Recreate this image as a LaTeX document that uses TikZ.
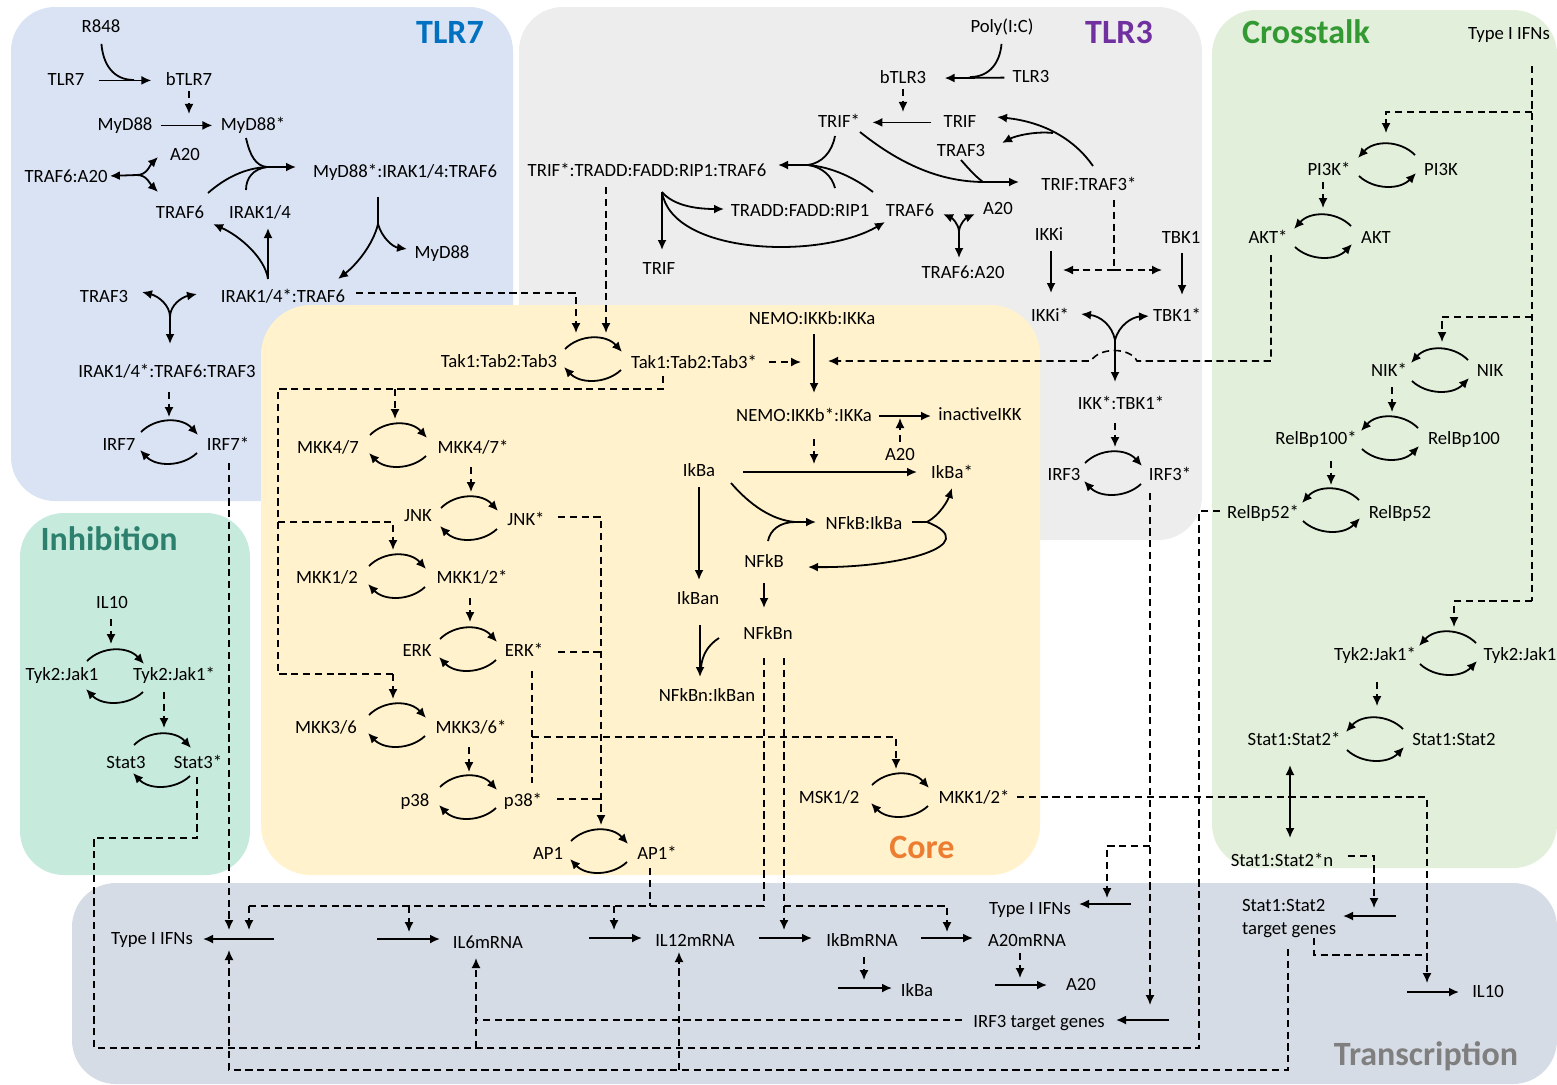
\documentclass[tikz,border=0pt]{standalone}
\usepackage{fontspec}
\setmainfont{Carlito}
\usetikzlibrary{arrows.meta}
\definecolor{tlrsevenbg}{HTML}{DAE3F3}
\definecolor{tlrthreebg}{HTML}{EDEDED}
\definecolor{crossbg}{HTML}{E2EFDA}
\definecolor{inhibbg}{HTML}{C6EBDD}
\definecolor{corebg}{HTML}{FFF2CC}
\definecolor{transbg}{HTML}{D6DCE5}
\definecolor{tlrsevenc}{HTML}{0070C0}
\definecolor{tlrthreec}{HTML}{7030A0}
\definecolor{crossc}{HTML}{339933}
\definecolor{inhibc}{HTML}{2E806E}
\definecolor{corec}{HTML}{ED7D31}
\definecolor{transc}{HTML}{7F7F7F}
\tikzset{
  txt/.style={font=\fontsize{9.35pt}{11.2pt}\selectfont, inner sep=1pt, yshift=-1.2pt},
  lbl/.style={txt, text height=6.4pt, text depth=1.7pt},
  ttl/.style={font=\fontsize{17pt}{20pt}\selectfont\bfseries, anchor=base, inner sep=0pt},
  ln/.style={line width=0.9pt},
  rx/.style={ln, -{Latex[length=5pt,width=4.5pt]}},
  dl/.style={line width=0.8pt, dash pattern=on 3.6pt off 2.3pt},
  ctl/.style={dl, -{Latex[length=5pt,width=4.5pt]}},
  panel/.style={rounded corners=22pt}
}
\begin{document}
\begin{tikzpicture}[x=0.5pt,y=-0.5pt]
\useasboundingbox (0,0) rectangle (1557,1084);
% Panels
\fill[panel, fill=tlrsevenbg] (11,7) rectangle (513,501);
\fill[panel, fill=tlrthreebg] (519,7) rectangle (1202,540);
\fill[panel, fill=crossbg] (1212,10) rectangle (1557,868);
\fill[panel, fill=inhibbg] (20,513) rectangle (250,875);
\fill[panel, fill=transbg] (72,883) rectangle (1557,1084);
\fill[panel, rounded corners=25pt, fill=corebg] (261,305) rectangle (1040,875);
\node[ttl, text=tlrsevenc] (ttlseven) at (450,43) {TLR7};
\node[ttl, text=tlrthreec] (ttlthree) at (1119,43) {TLR3};
\node[ttl, text=crossc] (ttlcross) at (1306,43) {Crosstalk};
\node[ttl, text=inhibc] (ttlinhib) at (109,550) {Inhibition};
\node[ttl, text=corec] (ttlcore) at (922,858) {Core};
\node[ttl, text=transc] (ttltrans) at (1426,1065) {Transcription};

% TLR7 species
\node[lbl] (r848) at (101,25) {R848};
\node[lbl] (tlr7) at (66,78) {TLR7};
\node[lbl] (btlr7) at (189,78) {bTLR7};
\node[lbl] (myd88) at (125,123) {MyD88};
\node[lbl] (myd88a) at (253,123) {MyD88*};
\node[lbl] (a20a) at (185,153) {A20};
\node[lbl] (traf6a20a) at (66,175) {TRAF6:A20};
\node[lbl] (mydcplx) at (405,170) {MyD88*:IRAK1/4:TRAF6};
\node[lbl] (traf6a) at (180,211) {TRAF6};
\node[lbl] (irak) at (260,211) {IRAK1/4};
\node[lbl] (myd88b) at (442,251) {MyD88};
\node[lbl] (traf3a) at (104,295) {TRAF3};
\node[lbl] (iraktraf6) at (283,295) {IRAK1/4*:TRAF6};
\node[lbl] (iraktraf3) at (167,370) {IRAK1/4*:TRAF6:TRAF3};
\node[lbl] (irf7) at (119,443) {IRF7};
\node[lbl] (irf7a) at (228,443) {IRF7*};

% TLR3 species
\node[lbl] (polyic) at (1002,25) {Poly(I:C)};
\node[lbl] (btlr3) at (903,76) {bTLR3};
\node[lbl] (tlr3) at (1031,75) {TLR3};
\node[lbl] (trifa) at (839,120) {TRIF*};
\node[lbl] (trif) at (960,120) {TRIF};
\node[lbl] (traf3b) at (961,149) {TRAF3};
\node[lbl] (triftraf3) at (1089,183) {TRIF:TRAF3*};
\node[lbl] (trifcplx) at (647,169) {TRIF*:TRADD:FADD:RIP1:TRAF6};
\node[lbl] (tfr) at (800,209) {TRADD:FADD:RIP1};
\node[lbl] (traf6b) at (910,209) {TRAF6};
\node[lbl] (a20b) at (998,207) {A20};
\node[lbl] (trifb) at (659,267) {TRIF};
\node[lbl] (traf6a20b) at (963,271) {TRAF6:A20};
\node[lbl] (ikki) at (1049,233) {IKKi};
\node[lbl] (tbk1) at (1181,236) {TBK1};
\node[lbl] (ikkia) at (1050,314) {IKKi*};
\node[lbl] (tbk1a) at (1177,314) {TBK1*};
\node[lbl] (ikktbk) at (1121,402) {IKK*:TBK1*};
\node[lbl] (irf3) at (1064,473) {IRF3};
\node[lbl] (irf3a) at (1170,473) {IRF3*};

% Crosstalk species
\node[lbl] (ifntop) at (1509,32) {Type I IFNs};
\node[lbl] (pi3ka) at (1329,168) {PI3K*};
\node[lbl] (pi3k) at (1441,168) {PI3K};
\node[lbl] (akta) at (1268,236) {AKT*};
\node[lbl] (akt) at (1376,236) {AKT};
\node[lbl] (nika) at (1389,369) {NIK*};
\node[lbl] (nik) at (1490,369) {NIK};
\node[lbl] (relbhunda) at (1316,437) {RelBp100*};
\node[lbl] (relbhund) at (1464,437) {RelBp100};
\node[lbl] (relbfiftya) at (1263,511) {RelBp52*};
\node[lbl] (relbfifty) at (1400,511) {RelBp52};
\node[lbl] (tykjaka) at (1375,653) {Tyk2:Jak1*};
\node[lbl] (tykjak) at (1520,653) {Tyk2:Jak1};
\node[lbl] (statsa) at (1294,738) {Stat1:Stat2*};
\node[lbl] (stats) at (1454,738) {Stat1:Stat2};
\node[lbl] (statsn) at (1282,859) {Stat1:Stat2*n};

% Inhibition species
\node[lbl] (iltena) at (112,601) {IL10};
\node[lbl] (tykjakb) at (62,673) {Tyk2:Jak1};
\node[lbl] (tykjakba) at (174,673) {Tyk2:Jak1*};
\node[lbl] (stat3) at (126,761) {Stat3};
\node[lbl] (stat3a) at (198,761) {Stat3*};

% Core species
\node[lbl] (tak) at (499,360) {Tak1:Tab2:Tab3};
\node[lbl] (taka) at (694,361) {Tak1:Tab2:Tab3*};
\node[lbl] (nemo) at (812,317) {NEMO:IKKb:IKKa};
\node[lbl] (nemoa) at (804,414) {NEMO:IKKb*:IKKa};
\node[lbl] (inact) at (980,413) {inactiveIKK};
\node[lbl] (a20c) at (900,453) {A20};
\node[lbl] (ikba) at (699,469) {IkBa};
\node[lbl] (ikbaa) at (952,471) {IkBa*};
\node[lbl] (nfkbikba) at (864,522) {NFkB:IkBa};
\node[lbl] (nfkb) at (764,560) {NFkB};
\node[lbl] (ikban) at (698,597) {IkBan};
\node[lbl] (nfkbn) at (768,632) {NFkBn};
\node[lbl] (nfkbnikban) at (707,694) {NFkBn:IkBan};
\node[lbl] (mkkfs) at (328,446) {MKK4/7};
\node[lbl] (mkkfsa) at (473,446) {MKK4/7*};
\node[lbl] (jnk) at (418,514) {JNK};
\node[lbl] (jnka) at (526,518) {JNK*};
\node[lbl] (mkkot) at (327,576) {MKK1/2};
\node[lbl] (mkkota) at (472,576) {MKK1/2*};
\node[lbl] (erk) at (417,649) {ERK};
\node[lbl] (erka) at (524,649) {ERK*};
\node[lbl] (mkkts) at (326,726) {MKK3/6};
\node[lbl] (mkktsa) at (471,726) {MKK3/6*};
\node[lbl] (pte) at (415,799) {p38};
\node[lbl] (ptea) at (523,799) {p38*};
\node[lbl] (apone) at (548,852) {AP1};
\node[lbl] (aponea) at (657,852) {AP1*};
\node[lbl] (msk) at (829,796) {MSK1/2};
\node[lbl] (mska) at (974,796) {MKK1/2*};

% Transcription species
\node[lbl] (ifna) at (152,937) {Type I IFNs};
\node[lbl] (ilsix) at (488,941) {IL6mRNA};
\node[lbl] (iltwelve) at (695,939) {IL12mRNA};
\node[lbl] (ikbm) at (862,939) {IkBmRNA};
\node[lbl] (atwm) at (1027,939) {A20mRNA};
\node[lbl] (ifnb) at (1030,907) {Type I IFNs};
\node[lbl] (ikbb) at (917,989) {IkBa};
\node[lbl] (a20d) at (1081,983) {A20};
\node[lbl] (irfgenes) at (1039,1020) {IRF3 target genes};
\node[txt, align=left] (statgenes) at (1289,916) {Stat1:Stat2\\target genes};
\node[lbl] (iltenb) at (1488,990) {IL10};

% Phosphorylation cycles (1 = forward on top, -1 = mirrored; \e = half height)
\foreach \cx/\cy/\s/\e in {169/442/1/10, 593/359/1/10, 398/445/1/10, 469/518/1/10,
    397/576/1/10, 468/649/1/10, 397/725/1/10, 468/797/1/10, 599/851/1/10, 900/795/1/10,
    1113/473/1/10, 115/676/1/15, 162/760/1/15, 1387/165/-1/10, 1323/236/-1/10,
    1440/370/-1/10, 1390/438/-1/10, 1331/510/-1/10, 1448/653/-1/10, 1375/739/-1/10} {
  \draw[rx] (\cx-28*\s,\cy-\e) .. controls (\cx-13*\s,\cy-\e-15) and (\cx+13*\s,\cy-\e-15) .. (\cx+29*\s,\cy-\e+3);
  \draw[rx] (\cx+28*\s,\cy+\e+1) .. controls (\cx+13*\s,\cy+\e+15) and (\cx-13*\s,\cy+\e+15) .. (\cx-29*\s,\cy+\e-2);
}

% TLR7 reactions
\draw[rx, shorten <=6pt, shorten >=6pt] (tlr7) -- (btlr7);
\draw[ln, shorten <=3pt] (r848.south) .. controls (103,64) and (113,80) .. (134,80);
\draw[ctl] (btlr7.south) -- ++(0,23);
\draw[rx, shorten <=3pt, shorten >=3pt] (myd88) -- (myd88a);
\coordinate (fa) at (137,175);
\draw[rx] (fa) -- (traf6a20a);
\draw[rx] (fa) .. controls (147,175) and (150,165) .. (158,157);
\draw[rx] (fa) .. controls (147,175) and (150,184) .. (158,192);
\coordinate (jm) at (267,167);
\draw[rx] (jm) -- (296,167);
\draw[ln] (246,138) .. controls (250,156) and (256,166) .. (jm);
\draw[ln] (208,193) .. controls (225,178) and (245,168) .. (jm);
\draw[ln] (246,190) .. controls (246,178) and (253,169) .. (jm);
\draw[ln] (378,197) -- (378,224);
\draw[rx] (378,224) .. controls (373,245) and (356,265) .. (338,279);
\draw[rx] (378,224) .. controls (382,238) and (393,247) .. (407,249);
\coordinate (js) at (268,279);
\draw[rx] (js) -- (268,228);
\draw[rx] (js) .. controls (265,258) and (240,236) .. (213,224);
\coordinate (jf) at (170,317);
\draw[rx] (jf) -- (170,344);
\draw[rx] (jf) .. controls (170,305) and (158,296) .. (142,292);
\draw[rx] (jf) .. controls (170,305) and (182,297) .. (197,294);
\draw[ctl] (169,392) -- (169,417);
\draw[ctl] (229,463) -- (229,930);

% TLR3 reactions
\draw[rx, shorten <=3pt, shorten >=8pt] (tlr3) -- (btlr3);
\draw[ln, shorten <=3pt] (polyic.south) .. controls (1000,62) and (990,77) .. (970,77);
\draw[ctl] (btlr3.south) -- ++(0,23);
\draw[rx, shorten <=5pt, shorten >=5pt] (trif) -- (trifa);
\draw[rx] (860,132) .. controls (905,168) and (945,182) .. (985,182) -- (1019,182);
\draw[ln] (961,160) .. controls (968,168) and (975,176) .. (983,182);
\draw[rx] (1093,166) .. controls (1075,140) and (1045,122) .. (997,117);
\draw[rx] (1053,133) .. controls (1035,131) and (1015,136) .. (1002,143);
\coordinate (jt) at (808,165);
\draw[rx] (jt) -- (778,165);
\draw[ln] (835,136) .. controls (832,152) and (822,163) .. (jt);
\draw[ln] (835,188) .. controls (832,176) and (822,167) .. (jt);
\draw[ln] (873,192) .. controls (855,178) and (832,167) .. (jt);
\coordinate (jc) at (662,192);
\draw[rx] (jc) -- (662,250);
\draw[rx] (jc) .. controls (672,204) and (692,209) .. (724,209);
\draw[rx] (jc) .. controls (672,255) and (820,260) .. (885,222);
\coordinate (fb) at (959,231);
\draw[rx] (fb) -- (959,258);
\draw[rx] (fb) .. controls (958,223) and (952,218) .. (943,214);
\draw[rx] (fb) .. controls (960,223) and (966,218) .. (975,214);
\draw[rx] (1051,251) -- (1051,293);
\draw[rx] (1182,253) -- (1182,295);
\draw[dl] (1114,200) -- (1114,270);
\draw[ctl] (1114,270) -- (1063,270);
\draw[ctl] (1114,270) -- (1162,270);
\coordinate (fk) at (1115,340);
\draw[rx] (fk) -- (1115,382);
\draw[rx] (fk) .. controls (1112,325) and (1100,316) .. (1081,314);
\draw[rx] (fk) .. controls (1119,325) and (1132,317) .. (1149,316);
\draw[ctl] (1115,423) -- (1115,447);
\draw[ctl] (1150,493) -- (1150,1005);
\draw[ctl] (1150,846) -- (1107,846) -- (1107,898);

% Crosstalk reactions
\draw[dl] (1532,66) -- (1532,601);
\draw[ctl] (1532,601) -- (1454,601) -- (1454,627);
\draw[ctl] (1532,112) -- (1386,112) -- (1386,133);
\draw[ctl] (1532,317) -- (1442,317) -- (1442,342);
\draw[ctl] (1323,182) -- (1323,208);
\draw[ctl] (1392,387) -- (1392,412);
\draw[ctl] (1331,461) -- (1331,485);
\draw[ctl] (1377,682) -- (1377,706);
\draw[ln, {Latex[length=5pt,width=4.5pt]}-{Latex[length=5pt,width=4.5pt]}] (1290,765) -- (1290,838);
\draw[ctl] (1271,255) -- (1271,361) -- (1137,361) .. controls (1130,347) and (1099,347) .. (1091,361) -- (828,361);

% Inhibition reactions
\draw[ctl] (111,619) -- (111,644);
\draw[ctl] (164,692) -- (164,728);

% Core reactions
\draw[ctl] (356,293) -| (576,333);
\draw[ctl] (606,187) -- (606,333);
\draw[ctl] (769,362) -- (801,362);
\draw[rx] (814,334) -- (814,393);
\draw[rx] (879,416) -- (931,416);
\draw[ctl] (900,442) -- (900,418);
\draw[ctl] (814,439) -- (814,464);
\draw[rx] (743,472) -- (917,472);
\coordinate (jn) at (795,522);
\draw[ln] (731,483) .. controls (750,505) and (772,520) .. (jn);
\draw[ln] (768,541) .. controls (770,530) and (780,522) .. (jn);
\draw[rx] (jn) -- (816,522);
\coordinate (jd) at (927,522);
\draw[ln] (912,522) -- (jd);
\draw[rx] (jd) .. controls (940,515) and (948,500) .. (952,488);
\draw[rx] (jd) .. controls (985,545) and (900,568) .. (808,567);
\draw[rx] (699,487) -- (699,580);
\draw[rx] (764,583) -- (764,608);
\draw[rx] (700,625) -- (700,677);
\draw[ln] (719,638) .. controls (708,645) and (702,655) .. (701,668);
\draw[dl] (764,658) -- (764,906);
\draw[ctl] (784,658) -- (784,930);
\draw[dl] (663,376) -- (663,389) -- (278,389) -- (278,674) -- (393,674);
\draw[ctl] (393,674) -- (393,699);
\draw[ctl] (395,389) -- (395,419);
\draw[ctl] (278,522) -- (393,522) -- (393,550);
\draw[ctl] (471,467) -- (471,492);
\draw[ctl] (470,598) -- (470,622);
\draw[ctl] (469,747) -- (469,772);
\draw[ctl] (558,517) -- (601,517) -- (601,825);
\draw[dl] (558,652) -- (601,652);
\draw[dl] (557,799) -- (601,799);
\draw[dl] (532,671) -- (532,783);
\draw[ctl] (532,737) -- (896,737) -- (896,769);
\draw[ctl] (1017,797) -- (1427,797) -- (1427,983);
\draw[dl] (650,868) -- (650,906);

% Transcription reactions
\draw[dl] (249,906) -- (764,906);
\draw[ctl] (249,906) -- (249,930);
\draw[ctl] (409,906) -- (409,932);
\draw[ctl] (614,906) -- (614,930);
\draw[ctl] (784,906) -- (947,906) -- (947,932);
\draw[rx] (274,939) -- (203,939);
\draw[rx] (377,939) -- (440,939);
\draw[rx] (589,938) -- (642,938);
\draw[rx] (759,938) -- (812,938);
\draw[rx] (921,938) -- (973,938);
\draw[ctl] (864,957) -- (864,980);
\draw[rx] (838,988) -- (892,988);
\draw[ctl] (1020,953) -- (1020,978);
\draw[rx] (995,985) -- (1047,985);
\draw[rx] (1131,904) -- (1079,904);
\draw[rx] (1169,1020) -- (1116,1020);
\draw[dl] (962,1020) -- (476,1020);
\draw[ctl] (476,1048) -- (476,958);
\draw[dl] (1220,511) -- (1199,511) -- (1199,1048) -- (94,1048) -- (94,838) -- (197,838) -- (197,775);
\draw[ctl] (1288,949) -- (1288,1070) -- (229,1070) -- (229,950);
\draw[ctl] (679,1070) -- (679,952);
\draw[dl] (1314,938) -- (1314,955) -- (1425,955);
\draw[rx] (1396,916) -- (1343,916);
\draw[ctl] (1348,856) -- (1374,856) -- (1374,908);
\draw[rx] (1407,992) -- (1459,992);
\end{tikzpicture}
\end{document}
